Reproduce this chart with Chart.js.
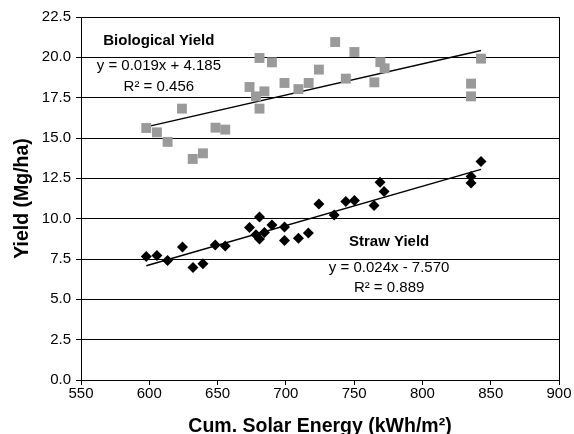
<!DOCTYPE html>
<html>
<head>
<meta charset="utf-8">
<script src="https://cdn.jsdelivr.net/npm/chart.js@4.4.1/dist/chart.umd.min.js"></script>
<style>
  body { margin: 0; background: #fff; }
  #wrap { width: 574px; height: 434px; }
</style>
</head>
<body>
<div id="wrap"><canvas id="chart" width="574" height="434"></canvas></div>
<script>
// Biological yield (gray squares)
var bioEnergy = [597.8, 605.6, 613.4, 623.9, 631.8, 639.3, 648.5, 655.6, 673.4, 678.1,
                 680.7, 680.7, 684.3, 689.8, 699.0, 709.2, 716.7, 724.2, 736.1, 743.9,
                 750.2, 764.8, 769.2, 772.3, 835.6, 835.6, 842.9];
var bioYield = [15.62, 15.35, 14.76, 16.82, 13.70, 14.05, 15.64, 15.52, 18.16, 17.58,
                19.96, 16.82, 17.89, 19.69, 18.41, 18.03, 18.41, 19.24, 20.95, 18.68,
                20.33, 18.45, 19.70, 19.32, 18.37, 17.58, 19.92];

// Straw yield (black diamonds)
var strawEnergy = [597.8, 605.6, 613.4, 624.3, 632.0, 639.3, 648.3, 655.6, 673.4, 678.1,
                   680.7, 680.7, 684.3, 689.8, 699.0, 699.0, 709.2, 716.5, 724.2, 735.4,
                   743.9, 750.2, 764.6, 769.0, 771.9, 835.6, 835.6, 842.9];
var strawYield = [7.66, 7.71, 7.40, 8.25, 6.98, 7.21, 8.37, 8.31, 9.46, 9.01,
                  10.11, 8.74, 9.15, 9.61, 9.49, 8.65, 8.78, 9.11, 10.91, 10.23,
                  11.07, 11.13, 10.81, 12.25, 11.69, 12.62, 12.21, 13.55];

var bioLabel = ["Biological Yield", "y = 0.019x + 4.185", "R\u00b2 = 0.456"];
var strawLabel = ["Straw Yield", "y = 0.024x - 7.570", "R\u00b2 = 0.889"];

function toPoints(xs, ys) {
  var pts = [];
  for (var i = 0; i < xs.length; i++) pts.push({x: xs[i], y: ys[i]});
  return pts;
}

// least squares line, drawn from min x to max x
function trend(xs, ys) {
  var n = xs.length, sx = 0, sy = 0, sxx = 0, sxy = 0;
  for (var i = 0; i < n; i++) {
    sx += xs[i]; sy += ys[i]; sxx += xs[i] * xs[i]; sxy += xs[i] * ys[i];
  }
  var m = (n * sxy - sx * sy) / (n * sxx - sx * sx);
  var b = (sy - m * sx) / n;
  var lo = Math.min.apply(null, xs), hi = Math.max.apply(null, xs);
  return [{x: lo, y: m * lo + b}, {x: hi, y: m * hi + b}];
}

Chart.defaults.font.family = "'Liberation Sans', Arial, sans-serif";
Chart.defaults.color = "#000";

var textPlugin = {
  id: "textPlugin",
  afterDraw: function(chart) {
    var ctx = chart.ctx, xs = chart.scales.x, ys = chart.scales.y, a = chart.chartArea;
    ctx.save();
    ctx.strokeStyle = "#000";
    ctx.lineWidth = 1;
    ctx.strokeRect(Math.round(a.left) + 0.5, Math.round(a.top) + 0.5,
                   Math.round(a.right - a.left), Math.round(a.bottom - a.top));
    ctx.fillStyle = "#000";
    ctx.textAlign = "center";
    ctx.textBaseline = "middle";
    function put(lines, cx, rows) {
      for (var i = 0; i < lines.length; i++) {
        ctx.font = (i === 0 ? "bold " : "") + "15px 'Liberation Sans', Arial, sans-serif";
        ctx.fillText(lines[i], xs.getPixelForValue(cx), ys.getPixelForValue(rows[i]));
      }
    }
    put(bioLabel, 607, [21.04, 19.49, 18.16]);
    put(strawLabel, 775.6, [8.59, 6.94, 5.70]);
    ctx.restore();
  }
};

var ctx = document.getElementById("chart");

var chart = new Chart(ctx, {
  type: "scatter",
  data: {
    datasets: [{
      label: "Biological Yield",
      data: toPoints(bioEnergy, bioYield),
      pointStyle: "rect",
      pointRadius: 7,
      backgroundColor: "#9a9a9a",
      borderColor: "#9a9a9a",
      borderWidth: 0
    }, {
      label: "Straw Yield",
      data: toPoints(strawEnergy, strawYield),
      pointStyle: "rectRot",
      pointRadius: 5.5,
      backgroundColor: "#000",
      borderColor: "#000",
      borderWidth: 0
    }, {
      type: "line",
      data: trend(bioEnergy, bioYield),
      borderColor: "#000",
      borderWidth: 1.5,
      pointRadius: 0,
      fill: false
    }, {
      type: "line",
      data: trend(strawEnergy, strawYield),
      borderColor: "#000",
      borderWidth: 1.5,
      pointRadius: 0,
      fill: false
    }]
  },
  options: {
    responsive: false,
    animation: false,
    layout: { padding: { top: 17, right: 15, left: 0, bottom: 0 } },
    plugins: {
      legend: { display: false },
      tooltip: { enabled: false }
    },
    scales: {
      x: {
        type: "linear",
        min: 550,
        max: 900,
        ticks: { stepSize: 50, font: { size: 15 }, padding: 0 },
        grid: { drawOnChartArea: false, drawTicks: true, tickLength: 5, color: "#000" },
        border: { color: "#000" },
        title: {
          display: true,
          text: "Cum. Solar Energy (kWh/m\u00b2)",
          font: { size: 19.5, weight: "bold" },
          padding: { top: 0, bottom: -4 }
        },
        afterFit: function(scale) { scale.height = 54; }
      },
      y: {
        min: 0,
        max: 22.5,
        ticks: {
          stepSize: 2.5,
          font: { size: 15 },
          padding: 5,
          callback: function(v) { return v.toFixed(1); }
        },
        grid: { color: "#000", tickLength: 5 },
        border: { color: "#000" },
        title: {
          display: true,
          text: "Yield (Mg/ha)",
          font: { size: 19.5, weight: "bold" },
          padding: { top: 11, bottom: 0 }
        },
        afterFit: function(scale) { scale.width = 81; }
      }
    }
  },
  plugins: [textPlugin]
});
</script>
</body>
</html>
